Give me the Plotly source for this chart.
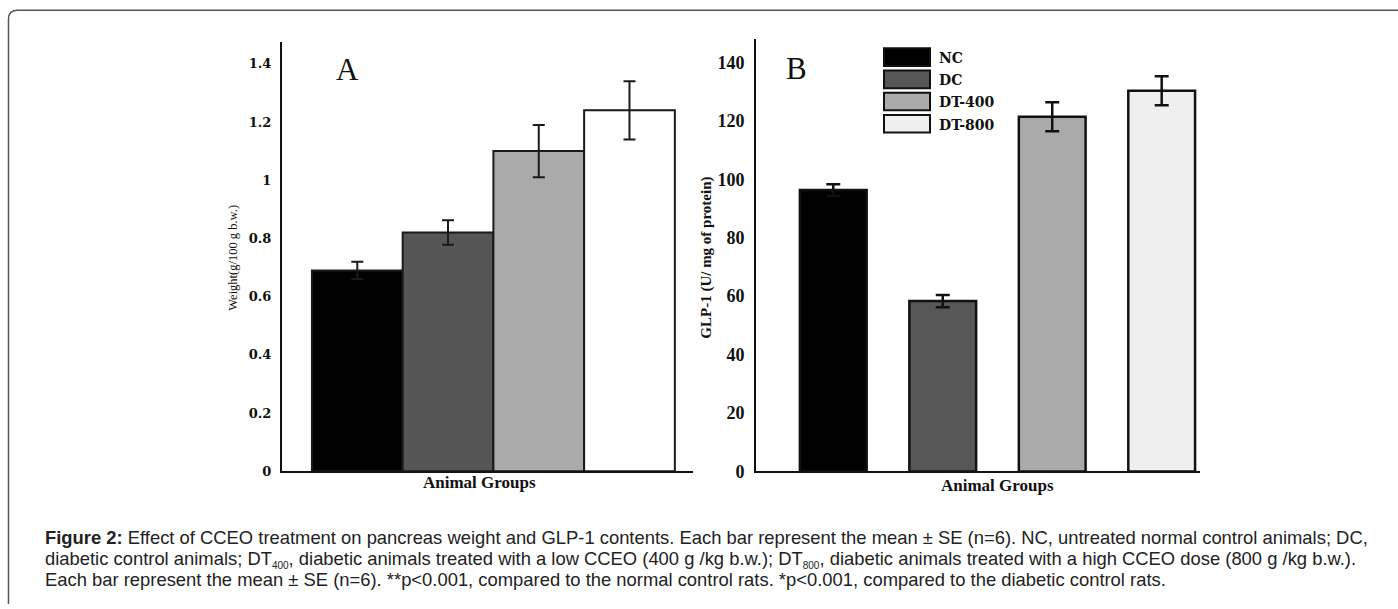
import plotly.graph_objects as go

W, H = 1398, 609

groups = ["NC", "DC", "DT-400", "DT-800"]

# Panel A: pancreas weight (g/100 g b.w.)
weight_mean = [0.69, 0.82, 1.10, 1.24]
weight_se = [0.03, 0.042, 0.09, 0.10]
colors_a = ["#000000", "#565656", "#aaaaaa", "#ffffff"]

# Panel B: GLP-1 (U/mg protein)
glp_mean = [96.3, 58.3, 121.4, 130.3]
glp_se = [2.0, 2.1, 5.0, 5.0]
colors_b = ["#000000", "#575757", "#aaaaaa", "#efefef"]

yticks_a = [0, 0.2, 0.4, 0.6, 0.8, 1.0, 1.2, 1.4]
yticklabels_a = ["0", "0.2", "0.4", "0.6", "0.8", "1", "1.2", "1.4"]
yticks_b = [0, 20, 40, 60, 80, 100, 120, 140]

SUB = "<sub><span style='font-size:10px'>%s</span></sub>"
caption_lines = [
    "<b>Figure 2:</b> Effect of CCEO treatment on pancreas weight and GLP-1 contents. Each bar represent the mean ± SE (n=6). NC, untreated normal control animals; DC,",
    "diabetic control animals; DT" + SUB % "400" + ", diabetic animals treated with a low CCEO (400 g /kg b.w.); DT" + SUB % "800" + ", diabetic animals treated with a high CCEO dose (800 g /kg b.w.).",
    "Each bar represent the mean ± SE (n=6). **p<0.001, compared to the normal control rats. *p<0.001, compared to the diabetic control rats.",
]


def px(x):
    return x / W


def py(y):
    return 1 - y / H


fig = go.Figure()

fig.add_trace(go.Bar(
    x=groups, y=weight_mean, width=1.0,
    marker=dict(color=colors_a, line=dict(color="#1a1a1a", width=2)),
    error_y=dict(type="data", array=weight_se, visible=True, color="#1a1a1a", thickness=2, width=6),
    xaxis="x", yaxis="y", showlegend=False, hoverinfo="skip",
))

fig.add_trace(go.Bar(
    x=groups, y=glp_mean, width=0.61,
    marker=dict(color=colors_b, line=dict(color="#111111", width=2.5)),
    error_y=dict(type="data", array=glp_se, visible=True, color="#111111", thickness=2.5, width=7),
    xaxis="x2", yaxis="y2", showlegend=False, hoverinfo="skip",
))

axis_common = dict(showgrid=False, zeroline=False, showline=True, linecolor="#111111", linewidth=2)

fig.update_layout(
    width=W, height=H,
    margin=dict(l=0, r=0, t=0, b=0),
    paper_bgcolor="white", plot_bgcolor="white",
    barmode="overlay",
    showlegend=False,
    xaxis=dict(domain=[px(282), px(693)], range=[-0.83, 3.70], showticklabels=False, ticks="",
               anchor="y", **axis_common),
    yaxis=dict(domain=[py(479), py(43)], range=[0, 1.474], tickvals=yticks_a, ticktext=yticklabels_a,
               ticks="outside", ticklen=6, tickcolor="rgba(0,0,0,0)",
               tickfont=dict(family="DejaVu Serif", size=13, color="#111111", weight="bold"),
               anchor="x", **axis_common),
    xaxis2=dict(domain=[px(756), px(1200)], range=[-0.706, 3.35], showticklabels=False, ticks="",
                anchor="y2", **axis_common),
    yaxis2=dict(domain=[py(479.3), py(40)], range=[0, 147.9], tickvals=yticks_b,
                ticks="outside", ticklen=6, tickcolor="rgba(0,0,0,0)",
                tickfont=dict(family="Liberation Serif", size=18, color="#111111", weight="bold"),
                anchor="x2", **axis_common),
    font=dict(family="Liberation Serif", color="#111111"),
)


def note(x, y, text, size, family="Liberation Serif", xanchor="center", angle=0, color="#111111"):
    return dict(x=px(x), y=py(y), text=text, showarrow=False, xref="paper", yref="paper",
                xanchor=xanchor, yanchor="middle", textangle=angle,
                font=dict(family=family, size=size, color=color))


ann = []
# panel letters
ann.append(note(347, 71, "A", 31))
ann.append(note(796, 70, "B", 31))
# axis titles
ann.append(note(233, 262, "Weight(g/100 g b.w.)", 12.5, angle=-90))
ann.append(note(707, 262, "<b>GLP-1 (U/ mg of protein)</b>", 15, angle=-90))
ann.append(note(479, 491, "<b>Animal Groups</b>", 17))
ann.append(note(997, 494, "<b>Animal Groups</b>", 17))

shapes = []
# legend (panel B)
leg_x0, leg_x1, leg_y0, leg_dy, leg_h = 884, 930, 58, 22.6, 18
for i, (g, c) in enumerate(zip(groups, colors_b)):
    yc = leg_y0 + i * leg_dy
    shapes.append(dict(type="rect", xref="paper", yref="paper",
                       x0=px(leg_x0), x1=px(leg_x1), y0=py(yc + leg_h / 2), y1=py(yc - leg_h / 2),
                       fillcolor=c, line=dict(color="#111111", width=2)))
    ann.append(note(937, yc + 1, "<b>%s</b>" % g, 14, family="DejaVu Serif", xanchor="left"))

# caption
cap_y = [546.5, 569.0, 589.5]
for t, yy in zip(caption_lines, cap_y):
    ann.append(note(43, yy, t, 18.4, family="Liberation Sans", xanchor="left", color="#222222"))

# outer frame with rounded top-left corner
r = 9
x0, y0 = 8.5, 10.5
path = "M %f,%f L %f,%f Q %f,%f %f,%f L %f,%f" % (
    px(x0), py(H + 5), px(x0), py(y0 + r), px(x0), py(y0), px(x0 + r), py(y0), px(W + 5), py(y0))
shapes.append(dict(type="path", xref="paper", yref="paper", path=path, line=dict(color="#555555", width=1.5)))

fig.update_layout(annotations=ann, shapes=shapes)

fig.write_html("out.html", config={"displayModeBar": False},
               post_script="document.body.style.margin='0px';document.body.style.overflow='hidden';")
